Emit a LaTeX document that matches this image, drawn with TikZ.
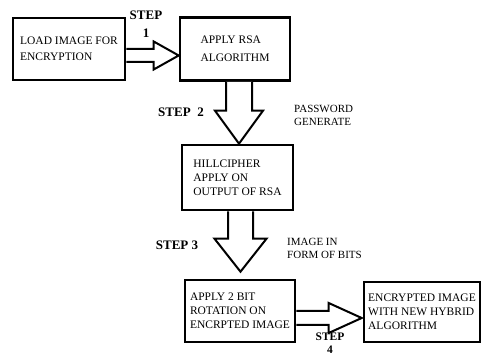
\documentclass[tikz,border=0pt]{standalone}
\usepackage{fontspec}
\setmainfont{Liberation Serif}
\usetikzlibrary{calc}
\newcommand{\boxfont}{\fontsize{11.5}{14}\selectfont}
\newcommand{\labelfont}{\fontsize{11}{13}\selectfont}
\newcommand{\stepfont}{\fontsize{13}{18}\selectfont\bfseries}
\begin{document}
\begin{tikzpicture}[x=1pt, y=1pt,
    stage/.style={draw, line width=2.6pt, align=left, font=\boxfont, inner sep=2pt},
    blockarrow/.style={draw, line width=2pt, fill=white, line join=miter},
    steplabel/.style={align=center, font=\stepfont, inner sep=0pt},
    sidelabel/.style={align=left, font=\labelfont, inner sep=0pt, anchor=west}]
    \useasboundingbox (0,0) rectangle (483,-355);

    % 1. Cac khoi xu ly
    \node[stage, minimum width=112, minimum height=62] (load) at (69,-49)
        {LOAD IMAGE FOR\\[2pt]ENCRYPTION};
    \node[stage, minimum width=110, minimum height=63] (rsa) at (235,-49)
        {APPLY RSA\\[4pt]ALGORITHM};
    \node[stage, minimum width=111, minimum height=65] (hill) at (237.5,-177.5)
        {HILLCIPHER\\APPLY ON\\OUTPUT OF RSA};
    \node[stage, minimum width=110, minimum height=62] (rotate) at (240,-311)
        {APPLY 2 BIT\\ROTATION ON\\ENCRPTED IMAGE};
    \node[stage, minimum width=116, minimum height=60] (final) at (422,-312)
        {ENCRYPTED IMAGE\\WITH NEW HYBRID\\ALGORITHM};

    % 2. Mui ten khoi
    \draw[blockarrow] let \p1=($(load.east)+(0,-6.5)$), \p2=(rsa.west) in
        (\x1,\y1+6.5pt) -- (\x2-25pt,\y1+6.5pt) -- (\x2-25pt,\y1+14pt) -- (\x2,\y1)
        -- (\x2-25pt,\y1-14pt) -- (\x2-25pt,\y1-6.5pt) -- (\x1,\y1-6.5pt);
    \draw[blockarrow] let \p1=($(rsa.south)+(4,0)$), \p2=(hill.north) in
        (\x1-13pt,\y1) -- (\x1-13pt,\y2+33pt) -- (\x1-24pt,\y2+33pt) -- (\x1,\y2)
        -- (\x1+24pt,\y2+33pt) -- (\x1+13pt,\y2+33pt) -- (\x1+13pt,\y1);
    \draw[blockarrow] let \p1=($(hill.south)+(3,0)$), \p2=($(rotate.north)+(0,7)$) in
        (\x1-12.5pt,\y1) -- (\x1-12.5pt,\y2+33pt) -- (\x1-26pt,\y2+33pt) -- (\x1,\y2)
        -- (\x1+26pt,\y2+33pt) -- (\x1+12.5pt,\y2+33pt) -- (\x1+12.5pt,\y1);
    \draw[blockarrow] let \p1=($(rotate.east)+(0,-7)$), \p2=($(final.west)+(-1,0)$) in
        (\x1,\y1+7pt) -- (\x2-33pt,\y1+7pt) -- (\x2-33pt,\y1+15pt) -- (\x2,\y1)
        -- (\x2-33pt,\y1-15pt) -- (\x2-33pt,\y1-7pt) -- (\x1,\y1-7pt);

    % 3. Nhan cac buoc
    \node[steplabel] (step1) at (146,-24) {STEP\\1};
    \node[steplabel] (step2) at (181,-112) {STEP~~2};
    \node[steplabel] (step3) at (177,-245) {STEP 3};
    \node[steplabel, font=\fontsize{11.5}{12.5}\selectfont\bfseries] (step4)
        at (330,-343) {STEP\\4};

    % 4. Ghi chu ben canh
    \node[sidelabel] (password) at (294,-115.5) {PASSWORD\\GENERATE};
    \node[sidelabel] (bits) at (287,-248.5) {IMAGE IN\\FORM OF BITS};
\end{tikzpicture}
\end{document}
